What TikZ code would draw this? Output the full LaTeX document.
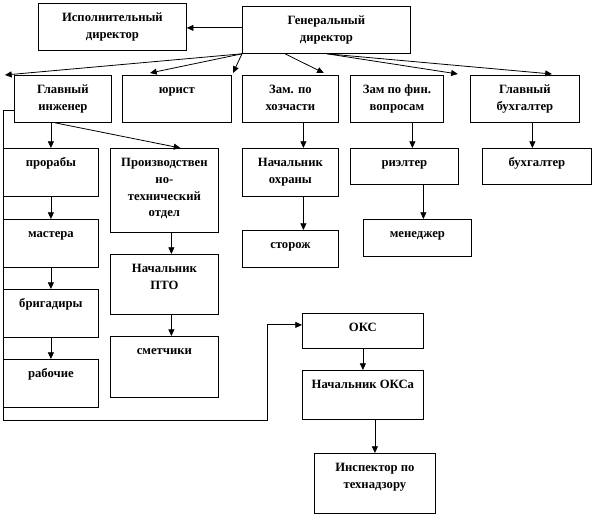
\documentclass[tikz,border=0pt]{standalone}
\usepackage{fontspec}
\setmainfont{Liberation Serif}
\usetikzlibrary{arrows.meta, calc}
\newdimen\pxu \pxu=0.75pt
\newcommand{\blktext}[3]{\parbox[t][#2\pxu][t]{#1\pxu}{\centering\vspace*{5pt}\strut#3}}

\begin{document}
\begin{tikzpicture}[x=0.75pt, y=-0.75pt,
  blk/.style={draw, line width=0.6pt, inner sep=0pt, anchor=north west,
    font=\fontsize{9.5}{12.5}\selectfont\bfseries},
  arr/.style={-{Triangle[length=5pt, width=4.5pt]}, line width=0.6pt}]
\useasboundingbox (0,0) rectangle (594,517);
% top row
\node[blk] (isp) at (38,3) {\blktext{148}{47}{Исполнительный\\директор}};
\node[blk] (gen) at (242,6) {\blktext{168}{47}{Генеральный\\директор}};
\node[blk] (ingl) at (14,75) {\blktext{97}{47}{Главный\\инженер}};
\node[blk] (yur) at (122,75) {\blktext{109}{47}{юрист}};
\node[blk] (hoz) at (242,75) {\blktext{96}{47}{Зам. по\\хозчасти}};
\node[blk] (fin) at (350,75) {\blktext{93}{47}{Зам по фин.\\вопросам}};
\node[blk] (buh) at (470,75) {\blktext{109}{47}{Главный\\бухгалтер}};
% engineer branch
\node[blk] (prorab) at (3,148) {\blktext{95}{48}{прорабы}};
\node[blk] (master) at (3,219) {\blktext{95}{48}{мастера}};
\node[blk] (brig) at (3,289) {\blktext{95}{48}{бригадиры}};
\node[blk] (rab) at (3,359) {\blktext{95}{48}{рабочие}};
\node[blk] (ptootd) at (110,148) {\blktext{108}{84}{Производствен\\но-\\технический\\отдел}};
\node[blk] (ptonach) at (110,254) {\blktext{108}{60}{Начальник\\ПТО}};
\node[blk] (smet) at (110,336) {\blktext{108}{61}{сметчики}};
% other branches
\node[blk] (ohr) at (242,148) {\blktext{96}{48}{Начальник\\охраны}};
\node[blk] (stor) at (242,230) {\blktext{96}{37}{сторож}};
\node[blk] (rielt) at (350,148) {\blktext{108}{36}{риэлтер}};
\node[blk] (men) at (363,219) {\blktext{108}{37}{менеджер}};
\node[blk] (buhg) at (482,148) {\blktext{109}{36}{бухгалтер}};
% OKS
\node[blk] (oks) at (302,313) {\blktext{121}{35}{ОКС}};
\node[blk] (oksnach) at (302,370) {\blktext{121}{49}{Начальник ОКСа}};
\node[blk] (insp) at (314,453) {\blktext{121}{60}{Инспектор по\\технадзору}};
\coordinate (loopbl) at (3,420);
\coordinate (loopbr) at (267,420);

% arrows from the director
\draw[arr] ($(gen.west)+(0,-2)$) -- ($(gen.west -| isp.east)+(0,-2)$);
\draw[arr] (gen.south west) -- ($(ingl.north west)+(-9,0)$);
\draw[arr] (gen.south west) -- ($(yur.north west)+(28,-2)$);
\draw[arr] (gen.south west) -- ($(hoz.north west)+(-9,-2)$);
\draw[arr] ($(gen.south west)+(43,0)$) -- ($(hoz.north east)+(-15,-2)$);
\draw[arr] ($(gen.south west)+(85,0)$) -- ($(fin.north east)+(14,-1)$);
\draw[arr] ($(gen.south west)+(85,0)$) -- ($(buh.north)+(27,-1)$);
% engineer
\draw[arr] (ingl.south -| prorab.north) -- (prorab.north);
\draw[arr] ($(ingl.south west)+(41,0)$) -- ($(ptootd.north)+(16,0)$);
\draw[arr] (prorab) -- (master);
\draw[arr] (master) -- (brig);
\draw[arr] (brig) -- (rab);
\draw[arr] ($(ptootd.south)+(7,0)$) -- ($(ptonach.north)+(7,0)$);
\draw[arr] ($(ptonach.south)+(7,0)$) -- ($(smet.north)+(7,0)$);
\draw[arr] ($(ingl.south west)+(0,-12)$) -| (loopbl) -- (loopbr) |- ($(oks.west)+(0,-6)$);
% deputies
\draw[arr] ($(hoz.south)+(13,0)$) -- ($(ohr.north)+(13,0)$);
\draw[arr] ($(ohr.south)+(13,0)$) -- ($(stor.north)+(13,0)$);
\draw[arr] ($(rielt.north)+(8,-26)$) -- ($(rielt.north)+(8,0)$);
\draw[arr] ($(rielt.south)+(19,0)$) -- ($(men.north)+(6,0)$);
\draw[arr] ($(buh.south)+(7.5,0)$) -- ($(buhg.north)+(-4.5,0)$);
% OKS
\draw[arr] (oks) -- (oks |- oksnach.north);
\draw[arr] (insp.north |- oksnach.south) -- (insp.north);
\end{tikzpicture}
\end{document}
